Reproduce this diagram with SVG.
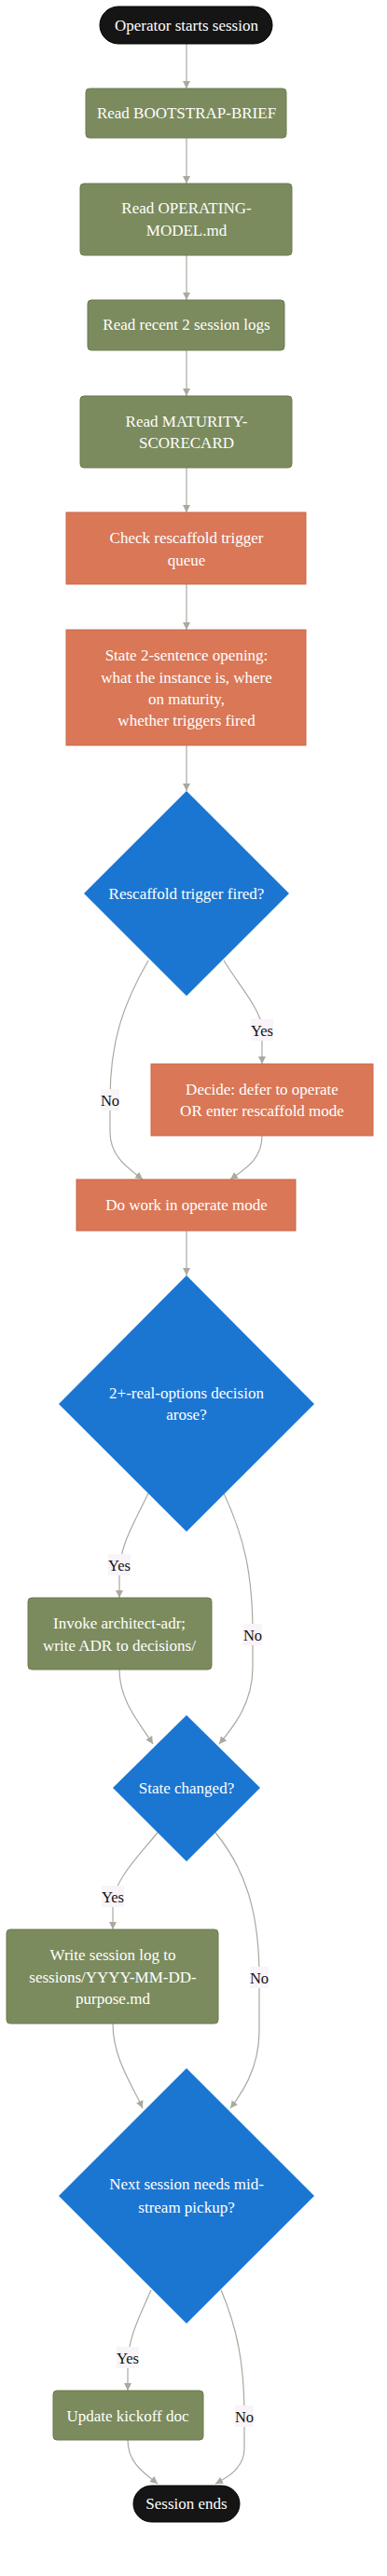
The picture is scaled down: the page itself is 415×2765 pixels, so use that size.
<svg xmlns="http://www.w3.org/2000/svg" width="415" height="2765" viewBox="0 0 415 2765">
<style>
  .t{font-family:"Liberation Serif","Times New Roman",serif;font-size:17px;fill:#ffffff;text-anchor:middle;dominant-baseline:central}
  .lbl{font-family:"Liberation Serif","Times New Roman",serif;font-size:16.5px;fill:#111111;text-anchor:middle;dominant-baseline:central}
  .lb{fill:#f8f4f9}
  .term{fill:#151515;stroke:#000000;stroke-width:1}
  .green{fill:#7b8b5d;stroke:#6c7b50;stroke-width:1}
  .orange{fill:#d97757;stroke:#c9684a;stroke-width:1}
  .dia{fill:#1b76d2}
  .e{fill:none;stroke:#aaa99f;stroke-width:1.2}
</style>
<defs>
  <marker id="ah" markerUnits="userSpaceOnUse" markerWidth="10" markerHeight="10" refX="8" refY="5" orient="auto">
    <path d="M0,1 L8,5 L0,9 Z" fill="#aaa99f"/>
  </marker>
</defs>
<rect width="415" height="2765" fill="#ffffff"/>
<g id="connectors">
  <path class="e" d="M200,47 L200,95" marker-end="url(#ah)"/>
  <path class="e" d="M200,148 L200,197" marker-end="url(#ah)"/>
  <path class="e" d="M200,274 L200,322" marker-end="url(#ah)"/>
  <path class="e" d="M200,376 L200,425" marker-end="url(#ah)"/>
  <path class="e" d="M200,502 L200,550" marker-end="url(#ah)"/>
  <path class="e" d="M200,627 L200,676" marker-end="url(#ah)"/>
  <path class="e" d="M200,800 L200,849" marker-end="url(#ah)"/>
  <path class="e" d="M240,1031 C258,1060 278,1082 281,1102 L281,1142" marker-end="url(#ah)"/>
  <path class="e" d="M159,1031 C132,1078 118,1118 118,1180 L118,1215 C118,1242 138,1254 153,1266" marker-end="url(#ah)"/>
  <path class="e" d="M281,1219 C281,1245 262,1255 247,1266" marker-end="url(#ah)"/>
  <path class="e" d="M200,1321 L200,1369" marker-end="url(#ah)"/>
  <path class="e" d="M159,1603 C142,1638 128,1660 128,1690 L128,1715" marker-end="url(#ah)"/>
  <path class="e" d="M240,1603 C262,1650 271,1690 271,1754 L271,1790 C271,1830 248,1856 235,1872" marker-end="url(#ah)"/>
  <path class="e" d="M128,1792 C128,1826 150,1850 164,1872" marker-end="url(#ah)"/>
  <path class="e" d="M169,1967 C146,1995 121,2020 121,2045 L121,2071" marker-end="url(#ah)"/>
  <path class="e" d="M231,1967 C262,2005 278,2050 278,2122 L278,2180 C278,2222 257,2250 247,2263" marker-end="url(#ah)"/>
  <path class="e" d="M121,2172 C121,2210 143,2240 153,2263" marker-end="url(#ah)"/>
  <path class="e" d="M162,2458 C148,2490 137,2510 137,2540 L137,2566" marker-end="url(#ah)"/>
  <path class="e" d="M237,2458 C255,2500 262,2540 262,2593 L262,2628 C262,2650 242,2660 231,2666" marker-end="url(#ah)"/>
  <path class="e" d="M137,2619 C137,2645 157,2656 169,2666" marker-end="url(#ah)"/>
  <rect class="lb" x="269" y="1094" width="24" height="23"/>
  <text class="lbl" x="281" y="1106">Yes</text>
  <rect class="lb" x="108" y="1169" width="20" height="23"/>
  <text class="lbl" x="118" y="1181">No</text>
  <rect class="lb" x="116" y="1668" width="24" height="23"/>
  <text class="lbl" x="128" y="1680">Yes</text>
  <rect class="lb" x="261" y="1743" width="20" height="23"/>
  <text class="lbl" x="271" y="1755">No</text>
  <rect class="lb" x="109" y="2024" width="24" height="23"/>
  <text class="lbl" x="121" y="2036">Yes</text>
  <rect class="lb" x="268" y="2111" width="20" height="23"/>
  <text class="lbl" x="278" y="2123">No</text>
  <rect class="lb" x="125" y="2519" width="24" height="23"/>
  <text class="lbl" x="137" y="2531">Yes</text>
  <rect class="lb" x="252" y="2582" width="20" height="23"/>
  <text class="lbl" x="262" y="2594">No</text>
</g>
<g id="start">
  <rect class="term" x="107" y="7" width="185" height="40" rx="20"/>
  <text class="t" x="200" y="27">Operator starts session</text>
</g>
<g id="read-brief">
  <rect class="green" x="92" y="95" width="215" height="53" rx="4"/>
  <text class="t" x="200" y="121">Read BOOTSTRAP-BRIEF</text>
</g>
<g id="read-opmodel">
  <rect class="green" x="86" y="197" width="227" height="77" rx="4"/>
  <text class="t" x="200" y="223">Read OPERATING-</text>
  <text class="t" x="200" y="247">MODEL.md</text>
</g>
<g id="read-logs">
  <rect class="green" x="94" y="322" width="211" height="54" rx="4"/>
  <text class="t" x="200" y="348">Read recent 2 session logs</text>
</g>
<g id="read-scorecard">
  <rect class="green" x="86" y="425" width="227" height="77" rx="4"/>
  <text class="t" x="200" y="452">Read MATURITY-</text>
  <text class="t" x="200" y="475">SCORECARD</text>
</g>
<g id="check-queue">
  <rect class="orange" x="71" y="550" width="257" height="77"/>
  <text class="t" x="200" y="577">Check rescaffold trigger</text>
  <text class="t" x="200" y="601">queue</text>
</g>
<g id="state-opening">
  <rect class="orange" x="71" y="676" width="257" height="124"/>
  <text class="t" x="200" y="703">State 2-sentence opening:</text>
  <text class="t" x="200" y="727">what the instance is, where</text>
  <text class="t" x="200" y="750">on maturity,</text>
  <text class="t" x="200" y="773">whether triggers fired</text>
</g>
<g id="trigger-fired">
  <polygon class="dia" points="200,849 310,959 200,1069 90,959"/>
  <text class="t" x="200" y="959">Rescaffold trigger fired?</text>
</g>
<g id="decide">
  <rect class="orange" x="162" y="1142" width="238" height="77"/>
  <text class="t" x="281" y="1169">Decide: defer to operate</text>
  <text class="t" x="281" y="1192">OR enter rescaffold mode</text>
</g>
<g id="operate">
  <rect class="orange" x="82" y="1266" width="235" height="55"/>
  <text class="t" x="200" y="1293">Do work in operate mode</text>
</g>
<g id="options-decision">
  <polygon class="dia" points="200,1369 337,1507 200,1644 63,1507"/>
  <text class="t" x="200" y="1495">2+-real-options decision</text>
  <text class="t" x="200" y="1518">arose?</text>
</g>
<g id="invoke-adr">
  <rect class="green" x="30" y="1715" width="197" height="77" rx="4"/>
  <text class="t" x="128" y="1742">Invoke architect-adr;</text>
  <text class="t" x="128" y="1766">write ADR to decisions/</text>
</g>
<g id="state-changed">
  <polygon class="dia" points="200,1841 279,1919 200,1998 121,1919"/>
  <text class="t" x="200" y="1919">State changed?</text>
</g>
<g id="write-log">
  <rect class="green" x="7" y="2071" width="227" height="101" rx="4"/>
  <text class="t" x="121" y="2098">Write session log to</text>
  <text class="t" x="121" y="2122">sessions/YYYY-MM-DD-</text>
  <text class="t" x="121" y="2145">purpose.md</text>
</g>
<g id="midstream">
  <polygon class="dia" points="200,2220 337,2357 200,2494 63,2357"/>
  <text class="t" x="200" y="2344">Next session needs mid-</text>
  <text class="t" x="200" y="2369">stream pickup?</text>
</g>
<g id="update-kickoff">
  <rect class="green" x="57" y="2566" width="161" height="53" rx="4"/>
  <text class="t" x="137" y="2593">Update kickoff doc</text>
</g>
<g id="end">
  <rect class="term" x="143" y="2668" width="114" height="39" rx="19.5"/>
  <text class="t" x="200" y="2687">Session ends</text>
</g>
</svg>
